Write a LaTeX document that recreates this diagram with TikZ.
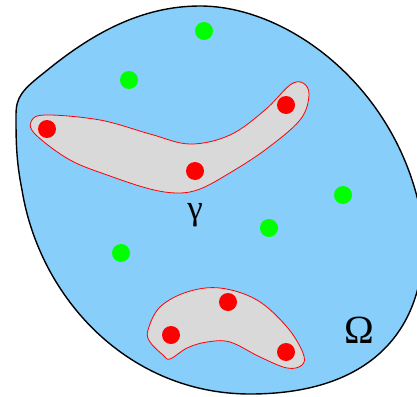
\documentclass[tikz,border=0pt]{standalone}
\usepackage{fontspec}
\setmainfont{Liberation Serif}
\usepackage{tikz}
\usetikzlibrary{positioning}
\definecolor{skyfill}{HTML}{87CEFA}
\definecolor{setgray}{HTML}{D9D9D9}

\begin{document}
\begin{tikzpicture}[
  x=1pt, y=-1pt,
  reddot/.style={circle, fill=red, inner sep=0pt, minimum size=18pt},
  greendot/.style={circle, fill=green, inner sep=0pt, minimum size=18pt},
  reg/.style={draw=red, fill=setgray, line width=0.8pt},
  lbl/.style={inner sep=0pt}
]
\useasboundingbox (0,0) rectangle (417,396);
\clip (0,0) rectangle (417,396);

% the domain
\draw[fill=skyfill, line width=1.4pt]
  (16,115) .. controls (16,97) and (22,90) .. (45,72)
  .. controls (90,35) and (140,6) .. (200,6)
  .. controls (290,6) and (400,90) .. (422,220)
  .. controls (432,320) and (380,394) .. (250,394)
  .. controls (130,394) and (40,300) .. (22,190)
  .. controls (16,160) and (16,140) .. (16,115) -- cycle;

% the two clusters
\draw[reg] plot[smooth cycle, tension=0.6] coordinates {
  (31,122) (45,115) (100,120) (150,134) (190,144) (230,135) (265,110)
  (290,85) (303,83) (309,95) (300,120) (265,150) (228,174) (200,189)
  (178,193) (150,189) (110,176) (70,160) (36,135)};
\draw[reg] plot[smooth cycle, tension=0.6] coordinates {
  (148,330) (160,307) (187,292) (220,288) (257,300) (287,327) (303,353)
  (302,365) (287,368) (260,357) (230,342) (207,342) (187,348) (170,359)
  (163,355) (150,342)};

% points
\node[greendot] (g1) at (204,31) {};
\node[greendot] (g2) at (129,80) {};
\node[greendot] (g3) at (343,195) {};
\node[greendot] (g4) at (269,228) {};
\node[greendot] (g5) at (121,253) {};

\node[reddot] (r1) at (47,129) {};
\node[reddot] (r2) at (286,105) {};
\node[reddot] (r3) at (195,171) {};
\node[reddot] (r4) at (228,302) {};
\node[reddot] (r5) at (171,335) {};
\node[reddot] (r6) at (286,352) {};

% labels
\node[lbl, font=\fontsize{35}{37}\selectfont] (gam) at (195,215) {γ};
\node[lbl, font=\fontsize{40}{42}\selectfont] (omg) at (359,330) {Ω};

\end{tikzpicture}
\end{document}
